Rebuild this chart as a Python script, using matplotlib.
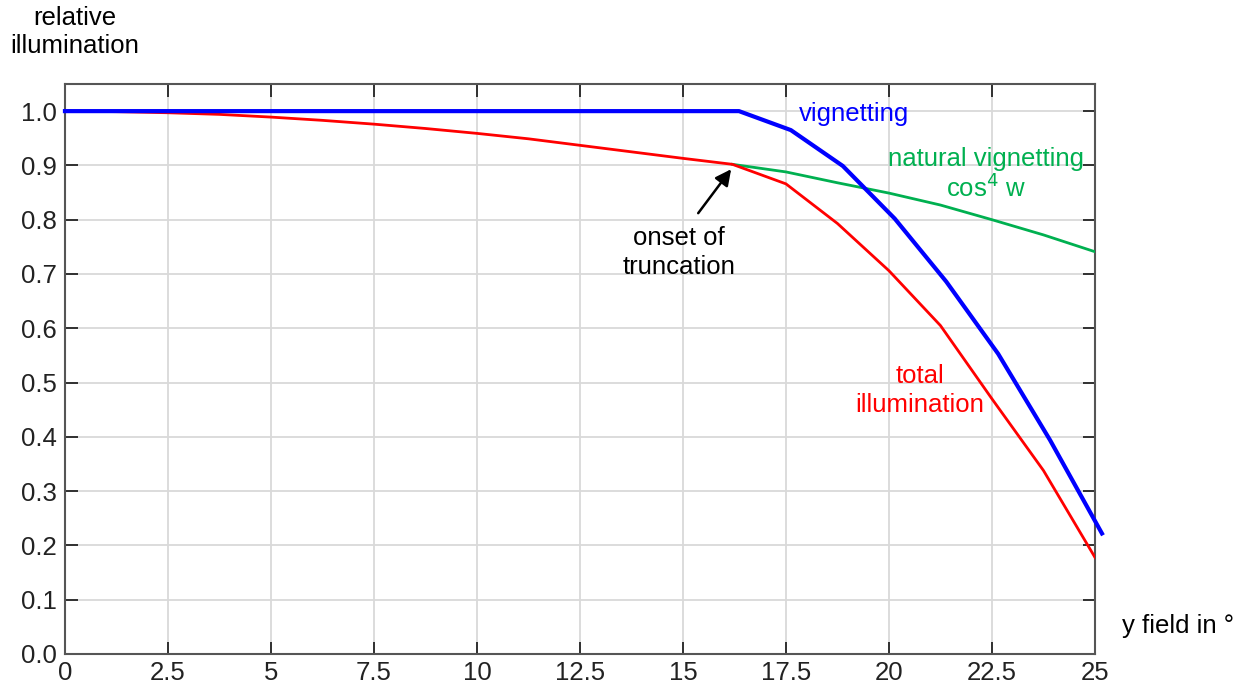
import numpy as np
import matplotlib.pyplot as plt
from matplotlib.ticker import FormatStrFormatter

plt.rcParams['font.family'] = ['Liberation Sans', 'DejaVu Sans']

# vignetting (blauw), punten om de ~1.26 graden
x_vig = [0, 1.26, 2.52, 3.78, 5.03, 6.29, 7.55, 8.81, 10.07, 11.33, 12.59,
         13.84, 15.1, 16.36, 17.62, 18.88, 20.14, 21.39, 22.65, 23.91, 25.17]
y_vig = [1.0] * 14 + [0.965, 0.899, 0.802, 0.686, 0.553, 0.394, 0.222]

# totale verlichting (rood)
x_tot = [0, 1.25, 2.5, 3.75, 5, 6.25, 7.5, 8.75, 10, 11.25, 12.5, 13.75, 15,
         16.2, 17.5, 18.75, 20, 21.25, 22.5, 23.75, 25]
y_tot = [1.0, 0.999, 0.997, 0.994, 0.989, 0.983, 0.976, 0.968, 0.959, 0.949,
         0.937, 0.925, 0.913, 0.902, 0.866, 0.793, 0.706, 0.605, 0.470, 0.338, 0.178]

# natuurlijke vignettering cos^4 w (groen)
x_nat = [16.2, 17.5, 18.75, 20, 21.25, 22.5, 23.75, 25]
y_nat = [0.902, 0.888, 0.868, 0.849, 0.827, 0.800, 0.772, 0.741]

xticks = [0, 2.5, 5, 7.5, 10, 12.5, 15, 17.5, 20, 22.5, 25]
yticks = [0.0, 0.1, 0.2, 0.3, 0.4, 0.5, 0.6, 0.7, 0.8, 0.9, 1.0]

fig = plt.figure(figsize=(12.42, 6.85), dpi=100)
ax = fig.add_axes([0.0523, 0.0453, 0.8293, 0.8321])

ax.plot(x_nat, y_nat, color="#00b050", lw=2, zorder=3)
ax.plot(x_tot, y_tot, color="red", lw=2, zorder=4)
ax.plot(x_vig, y_vig, color="blue", lw=3, zorder=5, clip_on=False)

ax.set_xlim(0, 25)
ax.set_ylim(0, 1.05)
ax.set_xticks(xticks)
ax.set_yticks(yticks)
ax.set_xticklabels(["%g" % t for t in xticks])
ax.yaxis.set_major_formatter(FormatStrFormatter("%.1f"))
ax.grid(True, color="#d9d9d9", lw=1.3)
ax.set_axisbelow(True)
fs = 18.5
ax.tick_params(direction="in", length=9, width=1.3, labelsize=fs,
               top=True, right=True, colors="#222222")
ax.tick_params(axis="y", pad=6)
ax.tick_params(axis="x", pad=5)
for s in ax.spines.values():
    s.set_color("#555555")
    s.set_linewidth(1.5)

fig.text(75 / 1242, 1 - 32 / 685, "relative\nillumination", ha="center", va="center",
         fontsize=fs, linespacing=1.25)
fig.text(1122 / 1242, 1 - 626 / 685, "y field in °", ha="left", va="center", fontsize=fs)

ax.text(19.15, 0.995, "vignetting", color="blue", fontsize=fs, ha="center", va="center")
ax.text(22.35, 0.911, "natural vignetting", color="#00b050", fontsize=fs,
        ha="center", va="center")
ax.text(22.35, 0.858, r"cos$^4$ w", color="#00b050", fontsize=fs, ha="center", va="center")
ax.text(20.75, 0.486, "total\nillumination", color="red", fontsize=fs, ha="center",
        va="center", linespacing=1.25)
ax.text(14.9, 0.740, "onset of\ntruncation", fontsize=fs, ha="center", va="center",
        linespacing=1.25)
ax.annotate("", xy=(16.17, 0.893), xytext=(15.37, 0.812),
            arrowprops=dict(arrowstyle="-|>", color="black", lw=1.8,
                            mutation_scale=24, shrinkA=0, shrinkB=0))

plt.savefig("out.png", dpi=100)
